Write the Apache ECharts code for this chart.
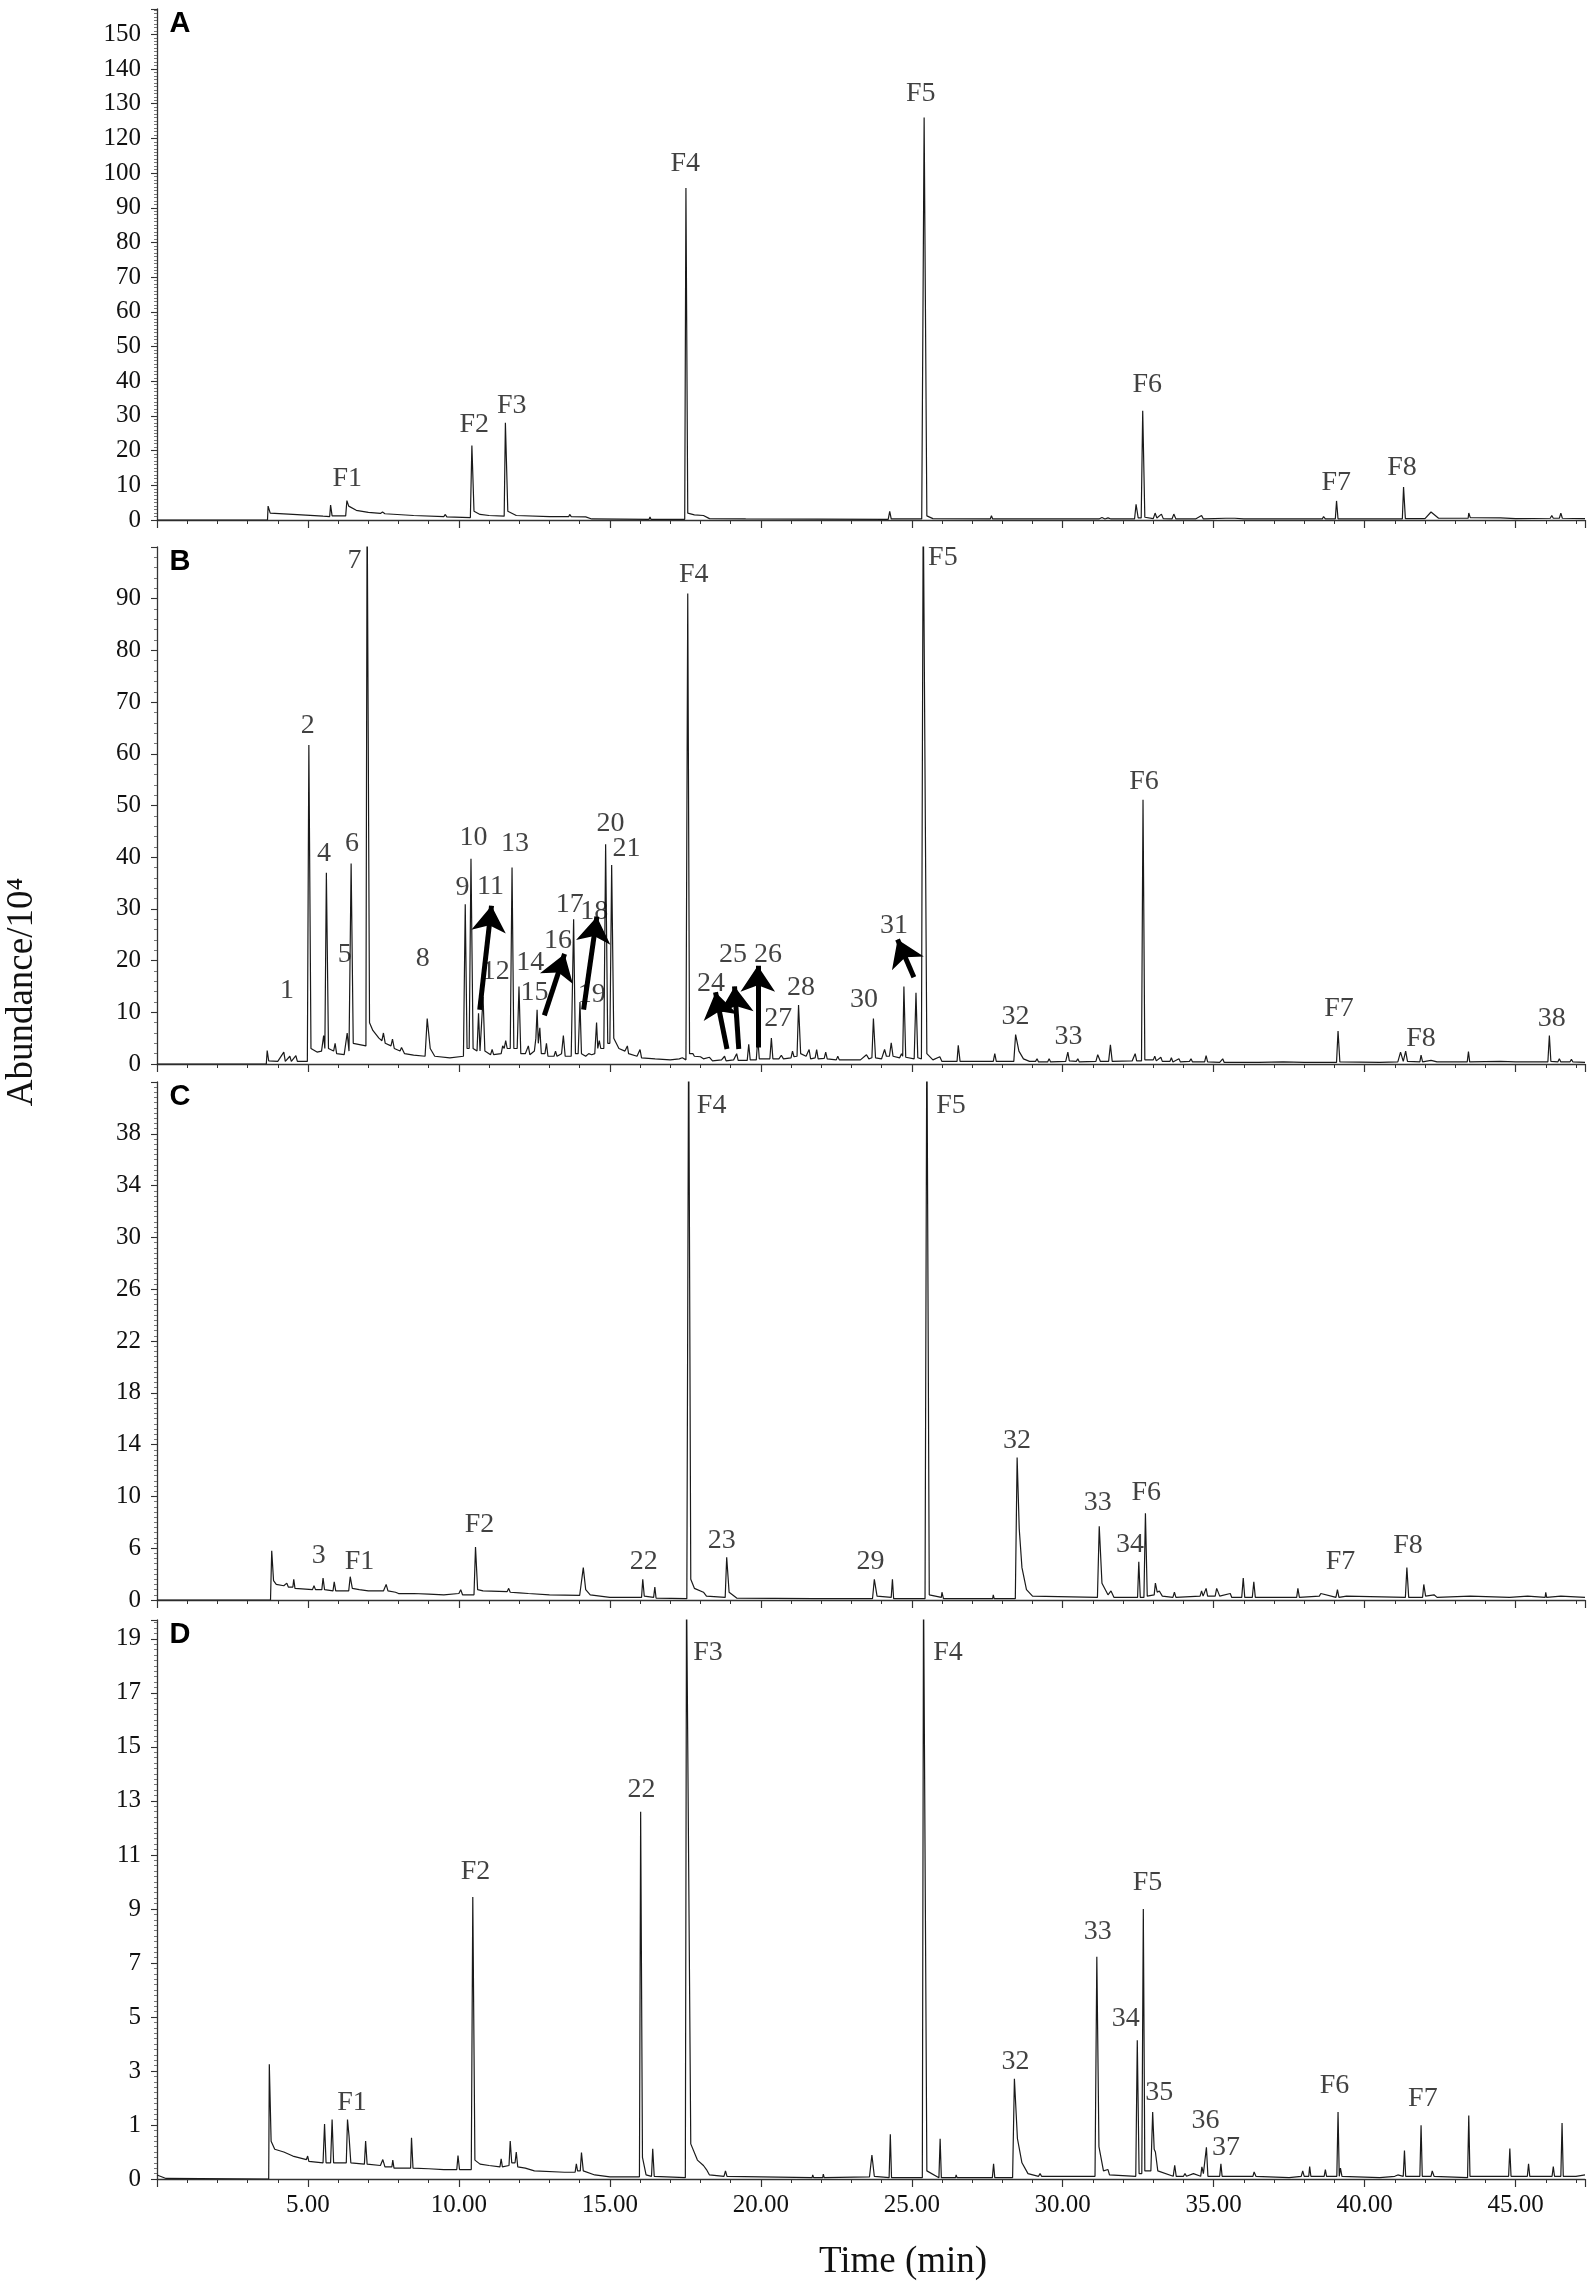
<!DOCTYPE html>
<html>
<head>
<meta charset="utf-8">
<script src="https://cdn.jsdelivr.net/npm/echarts@6/dist/echarts.min.js"></script>
<style>
  html, body { margin: 0; padding: 0; background: #fff; }
  #chart { width: 1595px; height: 2295px; }
</style>
</head>
<body>
<div id="chart"></div>
<script>
// ---- data: [time (min), abundance in axis units] ----
const traceA = [
  [0, 0], [3.66, 0], [3.68, 4.0], [3.75, 2.0], [4.5, 1.6], [5.5, 1.1], [5.72, 1.0], [5.75, 4.3], [5.8, 1.2],
  [6.25, 1.2], [6.29, 5.6], [6.35, 4.0], [6.6, 2.8], [7.0, 2.2], [7.4, 1.9], [7.47, 2.3], [7.55, 1.8], [8.5, 1.3],
  [9.5, 1.0], [9.55, 1.6], [9.6, 0.9], [10.38, 0.7], [10.43, 21.5], [10.5, 2.5], [10.7, 1.6], [11.0, 1.3],
  [11.5, 1.1], [11.54, 28.0], [11.62, 2.5], [11.9, 1.3], [13.0, 1.0], [13.64, 1.0], [13.67, 1.6], [13.72, 1.0],
  [14.2, 0.9], [14.4, 0.3], [16.3, 0.2], [16.33, 0.9], [16.36, 0.2], [17.48, 0.2], [17.52, 95.7], [17.58, 2.0],
  [17.8, 1.5], [18.1, 1.3], [18.3, 0.4], [19.5, 0.3], [24.22, 0.2], [24.27, 2.5], [24.32, 0.3], [25.33, 0.3],
  [25.41, 116], [25.5, 1.2], [25.7, 0.4], [27.6, 0.3], [27.64, 1.2], [27.68, 0.3], [31.2, 0.3], [31.3, 0.7],
  [31.4, 0.3], [31.5, 0.6], [31.6, 0.3], [32.38, 0.3], [32.43, 4.5], [32.5, 0.6], [32.6, 0.6], [32.65, 31.5],
  [32.72, 0.8], [33.0, 0.4], [33.06, 2.0], [33.12, 0.6], [33.27, 1.7], [33.33, 0.4], [33.62, 0.3], [33.68, 1.7],
  [33.75, 0.3], [34.3, 0.3], [34.34, 0.8], [34.4, 0.3], [34.6, 1.3], [34.66, 0.3], [35.4, 0.5], [35.7, 0.5],
  [36.0, 0.3], [38.6, 0.3], [38.64, 1.0], [38.7, 0.3], [39.03, 0.3], [39.07, 5.5], [39.12, 0.3], [41.25, 0.3],
  [41.29, 9.5], [41.35, 0.4], [42.0, 0.4], [42.2, 2.3], [42.45, 0.5], [43.43, 0.5], [43.45, 2.0], [43.5, 0.7],
  [44.5, 0.6], [45.0, 0.4], [46.15, 0.5], [46.2, 1.3], [46.25, 0.5], [46.45, 0.5], [46.5, 2.0], [46.55, 0.5],
  [47.3, 0.4]
];

const traceB = [
  [0, 0], [3.62, 0], [3.65, 2.6], [3.7, 0.6], [4.0, 0.5], [4.2, 2.3], [4.25, 0.5], [4.4, 1.5], [4.45, 0.5],
  [4.6, 1.6], [4.65, 0.5], [4.98, 0.5], [5.03, 61.7], [5.1, 3], [5.3, 2.3], [5.45, 2.5], [5.52, 5.5], [5.56, 3],
  [5.61, 37], [5.68, 3], [5.85, 2.5], [5.9, 4], [5.95, 2], [6.2, 1.8], [6.3, 6], [6.36, 2.5], [6.43, 38.8],
  [6.5, 4], [6.92, 3.5], [6.96, 110], [6.99, 110], [7.04, 8], [7.15, 6.5], [7.35, 5], [7.45, 4.5], [7.5, 6],
  [7.56, 4], [7.75, 3.5], [7.8, 4.8], [7.86, 3], [8.05, 2.5], [8.1, 3.2], [8.2, 2], [8.5, 1.7], [8.88, 1.5],
  [8.95, 8.8], [9.05, 3], [9.2, 1.5], [9.7, 1.2], [10.15, 1.5], [10.21, 30.9], [10.27, 3], [10.34, 3],
  [10.4, 39.7], [10.47, 3], [10.6, 2.5], [10.65, 9.8], [10.7, 2.5], [10.76, 2.5], [10.8, 13], [10.86, 2.5],
  [11.05, 1.8], [11.1, 2.8], [11.15, 1.8], [11.4, 2], [11.45, 3.5], [11.5, 3], [11.55, 4.5], [11.6, 3],
  [11.7, 3], [11.76, 38], [11.82, 3], [11.93, 3], [11.99, 15], [12.05, 2], [12.2, 2], [12.3, 3.5], [12.35, 1.8],
  [12.5, 2.5], [12.55, 5], [12.59, 10.5], [12.63, 4], [12.68, 7], [12.73, 2], [12.85, 2], [12.9, 4], [12.95, 1.5],
  [13.15, 1.5], [13.2, 2.5], [13.25, 1.5], [13.4, 2], [13.46, 5.5], [13.52, 1.5], [13.72, 1.5], [13.8, 28],
  [13.86, 2], [13.95, 2], [14.01, 12], [14.06, 2], [14.2, 1.5], [14.3, 2], [14.4, 1.8], [14.5, 2], [14.56, 8],
  [14.6, 3], [14.65, 4.5], [14.7, 3], [14.8, 3], [14.86, 42.5], [14.93, 4], [15.0, 4], [15.06, 38.5], [15.13, 5],
  [15.3, 3], [15.5, 2.5], [15.58, 3.5], [15.62, 2], [15.9, 1.5], [16.0, 2.8], [16.05, 1.2], [16.5, 1], [17.0, 0.8],
  [17.3, 1], [17.4, 1.2], [17.52, 0.8], [17.58, 91], [17.64, 2], [17.75, 2], [17.8, 1.5], [18.0, 1.4], [18.1, 1.0],
  [18.3, 1.3], [18.4, 0.6], [18.7, 0.8], [18.8, 1.5], [18.85, 0.6], [19.1, 0.8], [19.2, 2], [19.25, 0.7],
  [19.55, 0.7], [19.6, 3.8], [19.65, 0.8], [19.85, 0.8], [19.9, 5], [19.95, 1], [20.3, 1], [20.35, 5], [20.4, 1],
  [20.6, 1], [20.68, 1.7], [20.75, 1], [21.0, 1.2], [21.05, 2.5], [21.1, 1.4], [21.2, 1.5], [21.25, 11.4],
  [21.32, 2], [21.5, 1.5], [21.6, 2.8], [21.65, 1], [21.8, 1.2], [21.85, 2.8], [21.9, 1], [22.1, 1.1],
  [22.15, 2.3], [22.2, 1], [22.5, 0.8], [22.55, 1.5], [22.6, 0.8], [23.3, 0.8], [23.5, 1.8], [23.58, 1],
  [23.68, 1.2], [23.73, 8.8], [23.8, 1.2], [24.0, 1], [24.1, 2.8], [24.16, 1.5], [24.26, 1.5], [24.32, 4.1],
  [24.38, 1.5], [24.6, 1.2], [24.66, 2], [24.7, 1.5], [24.74, 15], [24.8, 1.3], [25.08, 1], [25.14, 13.8],
  [25.2, 1.2], [25.32, 1], [25.38, 110], [25.43, 110], [25.5, 2], [25.7, 0.8], [25.93, 1.4], [26.0, 0.5],
  [26.5, 0.5], [26.54, 3.6], [26.6, 0.5], [27.7, 0.5], [27.75, 2], [27.8, 0.5], [28.38, 0.5], [28.44, 5.7],
  [28.55, 2.5], [28.7, 1], [28.9, 0.5], [29.1, 0.5], [29.15, 1], [29.2, 0.4], [29.5, 0.4], [29.55, 1], [29.6, 0.4],
  [30.1, 0.5], [30.17, 2.3], [30.22, 0.6], [30.45, 0.5], [30.5, 1], [30.55, 0.4], [31.1, 0.5], [31.16, 1.8],
  [31.25, 0.5], [31.52, 0.5], [31.58, 3.7], [31.64, 0.5], [32.3, 0.6], [32.4, 2], [32.45, 0.6], [32.61, 0.6],
  [32.66, 51.1], [32.72, 0.8], [33.0, 0.8], [33.05, 1.5], [33.1, 0.6], [33.25, 1.3], [33.3, 0.5], [33.55, 0.5],
  [33.6, 1.2], [33.65, 0.4], [33.85, 1], [33.9, 0.4], [34.2, 0.5], [34.25, 1], [34.3, 0.4], [34.7, 0.4],
  [34.75, 1.6], [34.8, 0.4], [35.2, 0.3], [35.3, 1], [35.35, 0.3], [36.5, 0.3], [37.3, 0.4], [38.0, 0.3],
  [39.07, 0.3], [39.12, 6.4], [39.18, 0.4], [40.5, 0.3], [41.1, 0.4], [41.19, 2.3], [41.28, 0.5], [41.36, 2.5],
  [41.42, 0.5], [41.83, 0.4], [41.87, 1.7], [41.92, 0.4], [42.2, 0.7], [42.4, 0.4], [43.4, 0.4], [43.44, 2.4],
  [43.48, 0.4], [44.5, 0.5], [45.0, 0.4], [46.07, 0.4], [46.12, 5.5], [46.17, 0.5], [46.4, 0.4], [46.45, 1],
  [46.5, 0.4], [46.8, 0.4], [46.85, 0.9], [46.9, 0.4], [47.3, 0.3]
];

const traceC = [
  [0, 0], [3.76, 0], [3.8, 3.8], [3.86, 1.5], [3.95, 1.2], [4.2, 1.1], [4.3, 1.3], [4.35, 1.0], [4.5, 1.0],
  [4.53, 1.6], [4.57, 0.9], [5.15, 0.8], [5.2, 1.1], [5.25, 0.8], [5.46, 0.8], [5.5, 1.7], [5.55, 0.8],
  [5.83, 0.7], [5.87, 1.4], [5.92, 0.7], [6.35, 0.7], [6.4, 1.8], [6.47, 0.9], [6.7, 0.8], [7.0, 0.7],
  [7.05, 0.8], [7.5, 0.7], [7.59, 1.2], [7.65, 0.7], [7.9, 0.6], [8.0, 0.5], [8.5, 0.5], [8.55, 0.6],
  [9.0, 0.45], [9.5, 0.4], [10.0, 0.5], [10.06, 0.8], [10.12, 0.4], [10.5, 0.4], [10.55, 4.1], [10.62, 0.8],
  [10.8, 0.7], [11.6, 0.65], [11.65, 0.9], [11.7, 0.6], [12.0, 0.55], [12.05, 0.7], [12.3, 0.5], [13, 0.4],
  [14.0, 0.35], [14.12, 2.5], [14.2, 0.8], [14.35, 0.4], [15, 0.2], [16.05, 0.2], [16.09, 1.6], [16.14, 0.3],
  [16.45, 0.2], [16.49, 1.0], [16.53, 0.15], [17.55, 0.1], [17.61, 45], [17.68, 1.6], [17.8, 0.9], [18.1, 0.6],
  [18.2, 0.3], [18.82, 0.2], [18.87, 3.3], [18.95, 0.6], [19.2, 0.15], [21.75, 0.1], [21.8, 0.2], [21.85, 0.1],
  [23.7, 0.1], [23.76, 1.6], [23.85, 0.3], [24.32, 0.2], [24.36, 1.6], [24.4, 0.1], [25.44, 0.1], [25.5, 45],
  [25.58, 0.4], [25.98, 0.2], [26.0, 0.6], [26.05, 0.1], [27.68, 0.1], [27.7, 0.4], [27.73, 0.1], [28.43, 0.1],
  [28.49, 11], [28.56, 5.5], [28.65, 2.5], [28.8, 0.8], [29.0, 0.3], [31.15, 0.2], [31.21, 5.7], [31.3, 1.3],
  [31.5, 0.4], [31.6, 0.7], [31.7, 0.2], [32.48, 0.2], [32.52, 2.95], [32.57, 0.2], [32.69, 0.2], [32.74, 6.7],
  [32.8, 0.3], [33.03, 0.4], [33.07, 1.3], [33.13, 0.6], [33.2, 0.7], [33.3, 0.3], [33.65, 0.2], [33.7, 0.6],
  [33.75, 0.2], [34.55, 0.3], [34.6, 0.7], [34.65, 0.3], [34.75, 0.9], [34.8, 0.3], [35.05, 0.3], [35.1, 0.9],
  [35.2, 0.3], [35.55, 0.5], [35.6, 0.2], [35.93, 0.2], [35.98, 1.7], [36.03, 0.2], [36.28, 0.2], [36.33, 1.4],
  [36.38, 0.2], [37.75, 0.2], [37.79, 0.9], [37.84, 0.2], [38.5, 0.3], [38.55, 0.5], [39.05, 0.2], [39.1, 0.8],
  [39.15, 0.2], [39.4, 0.3], [41.35, 0.2], [41.4, 2.5], [41.46, 0.2], [41.92, 0.2], [41.96, 1.2], [42.02, 0.3],
  [42.3, 0.4], [42.4, 0.2], [43.5, 0.3], [44.8, 0.2], [45.4, 0.3], [45.98, 0.2], [46.0, 0.6], [46.03, 0.2],
  [46.5, 0.3], [47.3, 0.2]
];

const traceD = [
  [0, 0.15], [0.3, 0.02], [3.7, 0], [3.72, 4.25], [3.78, 1.4], [3.9, 1.1], [4.2, 1.0], [4.5, 0.85], [4.95, 0.72],
  [4.99, 0.85], [5.03, 0.65], [5.5, 0.6], [5.55, 2.04], [5.6, 0.6], [5.75, 0.6], [5.8, 2.2], [5.85, 0.6],
  [6.27, 0.6], [6.31, 2.2], [6.36, 1.6], [6.42, 0.6], [6.87, 0.55], [6.91, 1.41], [6.96, 0.55], [7.4, 0.5],
  [7.48, 0.72], [7.55, 0.45], [7.78, 0.45], [7.81, 0.7], [7.85, 0.4], [8.4, 0.4], [8.43, 1.53], [8.48, 0.4],
  [9.0, 0.38], [9.5, 0.35], [9.93, 0.35], [9.97, 0.87], [10.02, 0.35], [10.41, 0.35], [10.46, 10.44],
  [10.53, 0.7], [10.7, 0.55], [11.0, 0.5], [11.36, 0.45], [11.4, 0.75], [11.44, 0.45], [11.66, 0.5],
  [11.7, 1.41], [11.75, 0.6], [11.86, 0.6], [11.9, 1.0], [11.95, 0.45], [12.2, 0.4], [12.5, 0.3], [13.5, 0.25],
  [13.85, 0.25], [13.89, 0.56], [13.93, 0.3], [14.02, 0.3], [14.06, 0.98], [14.12, 0.3], [14.5, 0.15],
  [15.0, 0.08], [15.98, 0.08], [16.02, 13.6], [16.08, 0.8], [16.2, 0.15], [16.38, 0.1], [16.42, 1.12],
  [16.47, 0.1], [17.5, 0.05], [17.54, 22], [17.6, 22], [17.68, 1.3], [17.9, 0.7], [18.1, 0.5], [18.2, 0.35],
  [18.3, 0.15], [18.78, 0.1], [18.83, 0.3], [18.88, 0.1], [21.7, 0.05], [21.72, 0.15], [21.75, 0.05],
  [22.05, 0.05], [22.07, 0.18], [22.1, 0.05], [23.6, 0.08], [23.68, 0.89], [23.76, 0.1], [24.25, 0.05],
  [24.29, 1.66], [24.33, 0.05], [25.35, 0.05], [25.39, 22], [25.43, 22], [25.5, 0.3], [25.9, 0.05],
  [25.94, 1.49], [25.98, 0.05], [26.45, 0.05], [26.47, 0.15], [26.5, 0.05], [27.67, 0.05], [27.71, 0.56],
  [27.75, 0.05], [28.34, 0.05], [28.4, 3.71], [28.5, 1.5], [28.65, 0.6], [28.85, 0.2], [29.2, 0.1],
  [29.25, 0.2], [29.3, 0.1], [31.07, 0.1], [31.13, 8.23], [31.2, 1.2], [31.35, 0.3], [31.5, 0.35], [31.55, 0.15],
  [32.42, 0.1], [32.47, 5.14], [32.53, 0.2], [32.62, 0.2], [32.67, 10.0], [32.72, 0.3], [32.92, 0.3],
  [32.98, 2.48], [33.03, 1.1], [33.07, 1.0], [33.15, 0.3], [33.66, 0.1], [33.71, 0.51], [33.76, 0.1],
  [34.0, 0.1], [34.05, 0.2], [34.1, 0.1], [34.33, 0.2], [34.57, 0.1], [34.61, 0.45], [34.66, 0.2], [34.72, 0.2],
  [34.76, 1.17], [34.81, 0.1], [35.2, 0.1], [35.24, 0.56], [35.28, 0.1], [35.9, 0.1], [35.95, 0.15], [36.3, 0.1],
  [36.34, 0.26], [36.4, 0.1], [37.5, 0.05], [37.9, 0.1], [37.95, 0.3], [38.0, 0.1], [38.15, 0.1], [38.18, 0.46],
  [38.22, 0.1], [38.66, 0.1], [38.7, 0.35], [38.74, 0.1], [39.08, 0.1], [39.12, 2.48], [39.16, 0.1], [39.2, 0.4],
  [39.25, 0.1], [40.5, 0.05], [41.0, 0.1], [41.1, 0.15], [41.28, 0.1], [41.32, 1.05], [41.36, 0.1], [41.83, 0.1],
  [41.87, 1.99], [41.91, 0.1], [42.2, 0.1], [42.24, 0.3], [42.3, 0.1], [43.41, 0.05], [43.45, 2.35],
  [43.49, 0.1], [43.8, 0.1], [44.3, 0.1], [44.77, 0.1], [44.81, 1.13], [44.85, 0.1], [45.39, 0.1],
  [45.43, 0.56], [45.47, 0.1], [46.21, 0.1], [46.25, 0.46], [46.29, 0.1], [46.5, 0.1], [46.54, 2.07],
  [46.58, 0.1], [47.0, 0.1], [47.3, 0.15]
];

// peak annotations: [text, time, abundance]
const labelsA = [['F1', 6.3, 11.8], ['F2', 10.51, 27.4], ['F3', 11.75, 33], ['F4', 17.5, 102.7],
  ['F5', 25.3, 123], ['F6', 32.8, 38.9], ['F7', 39.06, 10.7], ['F8', 41.24, 15]];

const labelsB = [['1', 4.31, 14.2], ['2', 4.99, 65.5], ['4', 5.53, 40.6], ['5', 6.22, 21.2], ['6', 6.46, 42.7],
  ['7', 6.54, 97.3], ['8', 8.8, 20.4], ['9', 10.12, 34.2], ['10', 10.48, 43.7], ['11', 11.05, 34.4],
  ['12', 11.22, 17.8], ['13', 11.86, 42.7], ['14', 12.36, 19.7], ['15', 12.5, 13.8], ['16', 13.28, 23.9],
  ['17', 13.67, 30.8], ['18', 14.48, 29.5], ['19', 14.4, 13.5], ['20', 15.02, 46.5], ['21', 15.55, 41.7],
  ['F4', 17.78, 94.6], ['24', 18.35, 15.6], ['25', 19.08, 21.2], ['26', 20.24, 21.2], ['27', 20.58, 8.8],
  ['28', 21.33, 14.7], ['30', 23.42, 12.4], ['31', 24.41, 26.8], ['F5', 26.03, 98], ['32', 28.44, 9.2],
  ['33', 30.19, 5.2], ['F6', 32.69, 54.6], ['F7', 39.15, 10.7], ['F8', 41.87, 5.0], ['38', 46.2, 8.7]];

const labelsC = [['3', 5.36, 3.4], ['F1', 6.71, 2.95], ['F2', 10.68, 5.84], ['22', 16.12, 2.95],
  ['F4', 18.37, 38.2], ['23', 18.71, 4.6], ['29', 23.63, 2.95], ['F5', 26.3, 38.2], ['32', 28.49, 12.3],
  ['33', 31.16, 7.5], ['34', 32.23, 4.3], ['F6', 32.77, 8.3], ['F7', 39.2, 2.95], ['F8', 41.44, 4.2]];

const labelsD = [['F1', 6.46, 2.81], ['F2', 10.55, 11.4], ['22', 16.05, 14.4], ['F3', 18.25, 19.5],
  ['F4', 26.2, 19.5], ['32', 28.44, 4.33], ['33', 31.16, 9.16], ['34', 32.09, 5.93], ['F5', 32.81, 10.97],
  ['35', 33.2, 3.19], ['36', 34.73, 2.15], ['37', 35.41, 1.17], ['F6', 39.0, 3.44], ['F7', 41.93, 2.97]];

// arrows in panel B: [tailTime, tailAbund, headTime, headAbund]
const arrowsB = [[10.69, 10.5, 11.08, 30.6], [12.83, 9.4, 13.5, 21.3], [14.13, 10.5, 14.57, 28.5],
  [18.88, 2.9, 18.5, 13.9], [19.27, 2.9, 19.13, 15], [19.9, 3.2, 19.9, 19], [25.07, 16.8, 24.53, 24.1]];

// y tick labels as printed on the figure
const tickLabelsA = ['0', '10', '20', '30', '40', '50', '60', '70', '80', '90', '100', '120', '130', '140', '150'];
const tickLabelsB = ['0', '10', '20', '30', '40', '50', '60', '70', '80', '90'];
const tickLabelsC = ['0', '6', '10', '14', '18', '22', '26', '30', '34', '38'];
const tickLabelsD = ['0', '1', '3', '5', '7', '9', '11', '13', '15', '17', '19'];

const timeMax = 47.3;
const serif = '"Liberation Serif", "Times New Roman", serif';
const ink = '#1a1a1a';

const panels = [
  { trace: traceA, labels: labelsA, ticks: tickLabelsA, step: 10, max: 147.3, minor: 10, top: 9, height: 511, letter: 'A' },
  { trace: traceB, labels: labelsB, ticks: tickLabelsB, step: 10, max: 100, minor: 5, top: 547, height: 517, letter: 'B' },
  { trace: traceC, labels: labelsC, ticks: tickLabelsC, step: 4, max: 40, minor: 10, top: 1082, height: 518, letter: 'C' },
  { trace: traceD, labels: labelsD, ticks: tickLabelsD, step: 2, max: 20.7, minor: 10, top: 1620, height: 559, letter: 'D' }
];

const grid = [];
const xAxis = [];
const yAxis = [];
const series = [];
const graphic = [];

panels.forEach((p, i) => {
  grid.push({ left: 157, right: 10, top: p.top, height: p.height });

  xAxis.push({
    gridIndex: i,
    type: 'value',
    min: 0,
    max: timeMax,
    interval: 5,
    axisLine: { lineStyle: { color: '#333', width: 1.3 } },
    axisTick: { length: 8, lineStyle: { color: '#333', width: 1.2 } },
    minorTick: { show: true, splitNumber: 5, length: 4, lineStyle: { color: '#333', width: 1 } },
    splitLine: { show: false },
    axisLabel: {
      show: i === 3,
      fontFamily: serif,
      fontSize: 25,
      color: '#111',
      margin: 14,
      formatter: (v) => (v > 0 && v < 46 ? v.toFixed(2) : '')
    }
  });

  yAxis.push({
    gridIndex: i,
    type: 'value',
    min: 0,
    max: p.max,
    interval: p.step,
    axisLine: { show: true, lineStyle: { color: '#333', width: 1.3 } },
    axisTick: { show: true, length: 6, lineStyle: { color: '#333', width: 1.1 } },
    minorTick: { show: true, splitNumber: p.minor, length: 3, lineStyle: { color: '#555', width: 0.8 } },
    splitLine: { show: false },
    axisLabel: {
      fontFamily: serif,
      fontSize: 25,
      color: '#111',
      margin: 16,
      padding: [0, 0, 10, 0],
      formatter: (v) => {
        const k = Math.round(v / p.step);
        if (Math.abs(v - k * p.step) > 1e-6) return '';
        return p.ticks[k] || '';
      }
    }
  });

  series.push({
    type: 'line',
    xAxisIndex: i,
    yAxisIndex: i,
    data: p.trace,
    showSymbol: false,
    symbol: 'none',
    clip: true,
    lineStyle: { color: ink, width: 1.2 },
    silent: true,
    z: 2
  });

  series.push({
    type: 'scatter',
    xAxisIndex: i,
    yAxisIndex: i,
    symbolSize: 1,
    itemStyle: { color: 'rgba(0,0,0,0)' },
    silent: true,
    z: 5,
    data: p.labels.map((l) => ({ name: l[0], value: [l[1], l[2]] })),
    label: {
      show: true,
      position: 'inside',
      formatter: '{b}',
      fontFamily: serif,
      fontSize: 28,
      color: '#111'
    }
  });

  graphic.push({
    type: 'text',
    x: 180,
    y: p.top + 15,
    style: {
      text: p.letter,
      fontFamily: '"Liberation Sans", Arial, sans-serif',
      fontWeight: 'bold',
      fontSize: 29,
      fill: '#000',
      align: 'center',
      verticalAlign: 'middle'
    }
  });
});

series.push({
  type: 'lines',
  coordinateSystem: 'cartesian2d',
  xAxisIndex: 1,
  yAxisIndex: 1,
  silent: true,
  z: 6,
  symbol: ['none', 'arrow'],
  symbolSize: [20, 26],
  lineStyle: { color: '#000', width: 5, opacity: 1 },
  data: arrowsB.map((a) => ({ coords: [[a[0], a[1]], [a[2], a[3]]] }))
});

graphic.push({
  type: 'text',
  x: 22,
  y: 992,
  rotation: Math.PI / 2,
  style: {
    text: 'Abundance/10\u2074',
    fontFamily: serif,
    fontSize: 37,
    fill: '#111',
    align: 'center',
    verticalAlign: 'middle'
  }
});

graphic.push({
  type: 'text',
  x: 903,
  y: 2262,
  style: {
    text: 'Time (min)',
    fontFamily: serif,
    fontSize: 37,
    fill: '#111',
    align: 'center',
    verticalAlign: 'middle'
  }
});

const chart = echarts.init(document.getElementById('chart'));
chart.setOption({
  animation: false,
  backgroundColor: '#fff',
  grid,
  xAxis,
  yAxis,
  series,
  graphic
});
</script>
</body>
</html>
